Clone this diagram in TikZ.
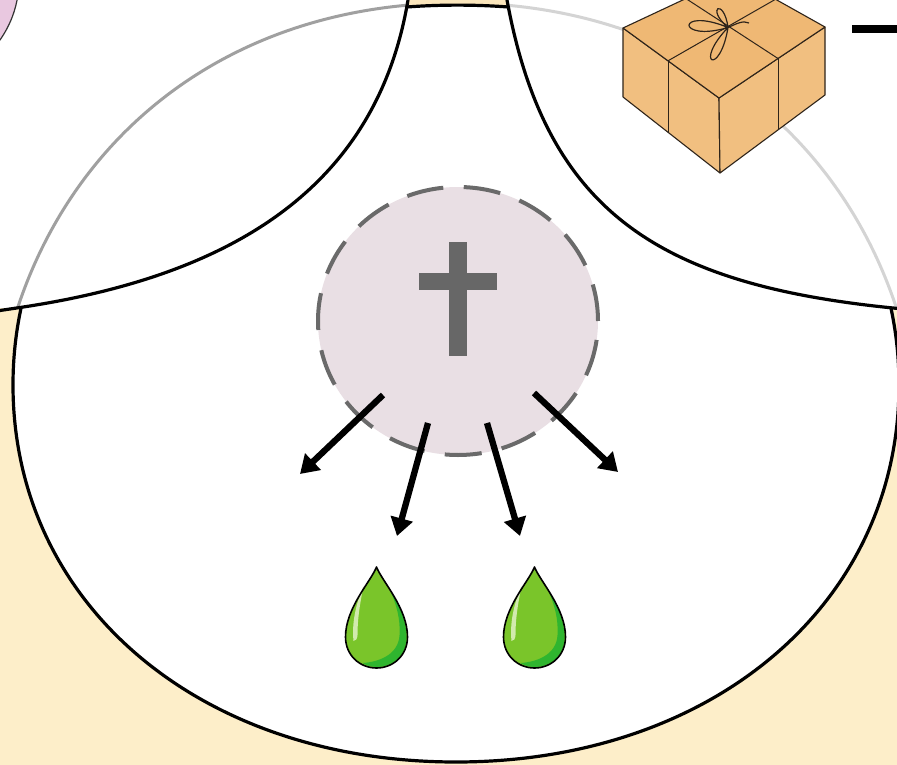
\documentclass[tikz,border=0pt]{standalone}
\usetikzlibrary{arrows.meta}
\definecolor{cream}{HTML}{FDEEC9}
\definecolor{creamdeep}{HTML}{FBE6BC}
\definecolor{nucfill}{HTML}{E9DFE4}
\definecolor{nucline}{HTML}{6A6A6A}
\definecolor{crossgray}{HTML}{676767}
\definecolor{boxtan}{HTML}{F1BF80}
\definecolor{boxtop}{HTML}{EFB874}
\definecolor{boxline}{HTML}{2E241A}
\definecolor{dropgreen}{HTML}{7AC52A}
\definecolor{dropdark}{HTML}{2FB52F}
\definecolor{droplight}{HTML}{D2EAAE}
\definecolor{pinkcell}{HTML}{E9C8E0}
\definecolor{ghostdark}{HTML}{A0A0A0}
\definecolor{ghostlight}{HTML}{D4D4D4}

\tikzset{
  droplet/.pic={
    \fill[dropgreen] (0,0) .. controls (6,15) and (31,41) .. (31,70)
      .. controls (31,88) and (17,101) .. (0,101)
      .. controls (-17,101) and (-31,88) .. (-31,70)
      .. controls (-31,41) and (-6,15) .. cycle;
    \fill[dropdark] (14,24) .. controls (24,40) and (30,55) .. (30,70)
      .. controls (30,88) and (17,100) .. (0,100)
      .. controls (-6,100) and (-11,98) .. (-14,96)
      .. controls (2,95) and (22,88) .. (23,68)
      .. controls (24,52) and (20,38) .. cycle;
    \fill[droplight] (-13,19) .. controls (-20,35) and (-25,55) .. (-23,74)
      .. controls (-21,74) and (-19,72) .. (-19,68)
      .. controls (-19,50) and (-16,34) .. cycle;
    \draw[black, line width=1.6pt, line join=round]
      (0,0) .. controls (6,15) and (31,41) .. (31,70)
      .. controls (31,88) and (17,101) .. (0,101)
      .. controls (-17,101) and (-31,88) .. (-31,70)
      .. controls (-31,41) and (-6,15) .. cycle;
  }
}

\begin{document}
\begin{tikzpicture}[x=1pt,y=-1pt,
  cellline/.style={line width=3.2pt, black, line join=round},
  ghost/.style={line width=3pt},
  arr/.style={line width=6.3pt, black, -{Triangle[length=18pt,width=22pt]}},
  boxface/.style={fill=boxtan, draw=boxline, line width=1.1pt, line join=round},
  boxseam/.style={draw=boxline, line width=1pt},
]
\useasboundingbox (0,0) rectangle (897,765);
\clip (0,0) rectangle (897,765);

% paper
\fill[white] (0,0) rectangle (897,765);

% faint outline of the underlying round body, seen only in the upper cells
\begin{scope}
  \clip (0,0) -- (408,0) .. controls (375,197) and (218,278) .. (20,307.5) -- (0,310.5) -- cycle;
  \draw[ghost, ghostdark] (923,480) .. controls (923,761.4) and (731.9,957) .. (457,957)
    .. controls (182.1,957) and (-9,761.4) .. (-9,480)
    .. controls (-9,198.6) and (182.1,3) .. (457,3)
    .. controls (731.9,3) and (923,198.6) .. (923,480) -- cycle;
\end{scope}
\begin{scope}
  \clip (507,0) -- (897,0) -- (897,308.4) -- (893,308) .. controls (659,284.5) and (546,212) .. (507,0) -- cycle;
  \draw[ghost, ghostlight] (923,480) .. controls (923,761.4) and (731.9,957) .. (457,957)
    .. controls (182.1,957) and (-9,761.4) .. (-9,480)
    .. controls (-9,198.6) and (182.1,3) .. (457,3)
    .. controls (731.9,3) and (923,198.6) .. (923,480) -- cycle;
\end{scope}

% extracellular space
\begin{scope}
  \clip (0,308) rectangle (897,765);
  \fill[cream, even odd rule] (0,300) rectangle (897,765)
    (899,385) .. controls (899,603.7) and (712.9,762) .. (456,762)
    .. controls (199.1,762) and (13,603.7) .. (13,385)
    .. controls (13,166.3) and (199.1,8) .. (456,8)
    .. controls (712.9,8) and (899,166.3) .. (899,385) -- cycle;
  \draw[cellline] (899,385) .. controls (899,603.7) and (712.9,762) .. (456,762)
    .. controls (199.1,762) and (13,603.7) .. (13,385)
    .. controls (13,166.3) and (199.1,8) .. (456,8)
    .. controls (712.9,8) and (899,166.3) .. (899,385) -- cycle;
\end{scope}
\fill[creamdeep] (408,0) -- (406.8,7) .. controls (440,4.5) and (475,4.5) .. (508.3,7) -- (507,0) -- cycle;

% cell walls
\draw[cellline] (408,0) .. controls (375,197) and (218,278) .. (20,307.5) -- (0,310.5);
\draw[cellline] (507,0) .. controls (546,212) and (659,284.5) .. (893,308) -- (897,308.4);
\draw[cellline] (406.8,7) .. controls (440,4.5) and (475,4.5) .. (508.3,7);

% neighbouring cell
\draw[fill=pinkcell, draw=black!80, line width=1.2pt] (-85,-20) circle[radius=104pt];

% nucleus with cross
\coordinate (nuc) at (458,321);
\path[fill=nucfill, draw=nucline, line width=4pt, dash pattern=on 37pt off 20.5pt]
  (nuc) ellipse[x radius=140pt, y radius=134pt];
\fill[crossgray] (449,242) rectangle (467,356);
\fill[crossgray] (419,273) rectangle (497,290);

% release arrows
\coordinate (a1s) at (383,395); \coordinate (a1e) at (300,474);
\coordinate (a2s) at (428,423); \coordinate (a2e) at (397,536);
\coordinate (a3s) at (487,423); \coordinate (a3e) at (520,536);
\coordinate (a4s) at (534,393); \coordinate (a4e) at (618,472);
\draw[arr] (a1s) -- (a1e);
\draw[arr] (a2s) -- (a2e);
\draw[arr] (a3s) -- (a3e);
\draw[arr] (a4s) -- (a4e);

% droplets
\pic at (376.5,567) {droplet};
\pic at (534.5,567) {droplet};

% parcel
\coordinate (bL) at (623,28);
\coordinate (bF) at (719,98);
\coordinate (bR) at (825,27);
\coordinate (bB) at (734,-24);
\coordinate (bLd) at (623,97);
\coordinate (bFd) at (720,173);
\coordinate (bRd) at (825,95);
\path[boxface] (bL) -- (bF) -- (bFd) -- (bLd) -- cycle;
\path[boxface] (bF) -- (bR) -- (bRd) -- (bFd) -- cycle;
\path[boxface, fill=boxtop] (bL) -- (bB) -- (bR) -- (bF) -- cycle;
\draw[boxseam] (668,60.8) -- (668,132.3);
\draw[boxseam] (778,58.5) -- (778,129.9);
\draw[boxseam] (668,60.8) -- (779.5,-3);
\draw[boxseam] (778,58.5) -- (683.5,-3);
\coordinate (bow) at (728,27.5);
\draw[boxseam, line width=1.2pt]
  (bow) .. controls (676,6) and (676,43) .. (bow)
  (bow) .. controls (693,64) and (720,77) .. (bow)
  (bow) .. controls (705,8) and (724,-3) .. (bow)
  (bow) .. controls (736,24) and (743,20) .. (749,23);

% leader
\coordinate (lead1) at (852,29);
\coordinate (lead2) at (897,29);
\draw[line width=8pt] (lead1) -- (lead2);
\end{tikzpicture}
\end{document}
